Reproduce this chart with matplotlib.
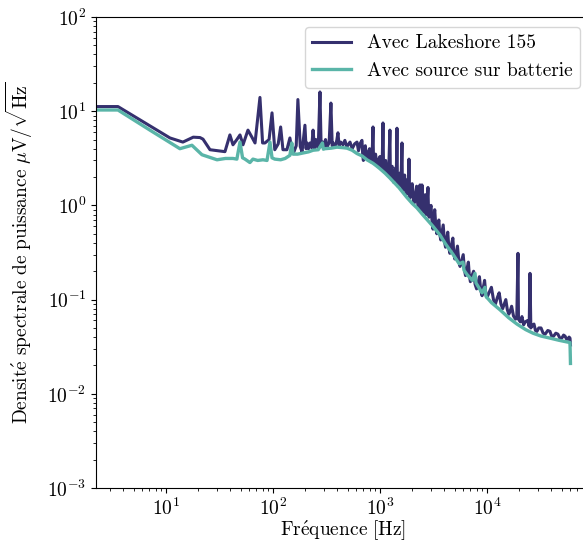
import numpy as np
import matplotlib
matplotlib.use("Agg")
import matplotlib.pyplot as plt

plt.rcParams['font.family'] = ['cmr10', 'DejaVu Serif']
plt.rcParams['mathtext.fontset'] = 'cm'
plt.rcParams['axes.formatter.use_mathtext'] = True
plt.rcParams['font.size'] = 14

# Avec Lakeshore 155
freq_lake = [2.22, 3.56, 7.08, 10.9, 14.4, 18.0, 20.8, 22.2, 25.8, 35.6,
             39.6, 42.3, 46, 49.2, 52.5, 58.4, 63.6, 68, 75.6, 80,
             84.2, 92, 98, 104, 112, 118, 124, 135, 144, 150,
             157, 165, 171, 180, 187, 199, 204, 208, 215, 222,
             230, 237, 245, 252, 258, 265, 275, 282, 293, 300,
             310, 320, 335, 348, 358, 364, 380, 395, 405, 415,
             430, 451, 470, 490, 525, 550, 580, 610, 630, 650,
             679, 690, 700, 715, 730, 745, 760, 780, 800, 815,
             830, 845, 861, 870, 880, 895, 910, 930, 950, 975,
             1000, 1015, 1030, 1050, 1067, 1080, 1090, 1110, 1130, 1155,
             1180, 1210, 1239, 1250, 1260, 1280, 1300, 1325, 1350, 1375,
             1400, 1420, 1442, 1455, 1470, 1500, 1530, 1570, 1606, 1620,
             1640, 1670, 1700, 1730, 1760, 1790, 1820, 1845, 1867, 1885,
             1900, 1950, 2000, 2040, 2080, 2140, 2200, 2240, 2280, 2320,
             2366, 2390, 2420, 2445, 2470, 2510, 2550, 2600, 2650, 2680,
             2700, 2750, 2810, 2845, 2880, 2940, 3000, 3060, 3129, 3190,
             3250, 3320, 3400, 3470, 3550, 3620, 3700, 3800, 3900, 4000,
             4100, 4200, 4300, 4400, 4500, 4650, 4800, 4900, 5000, 5150,
             5300, 5450, 5600, 5800, 6000, 6150, 6300, 6500, 6700, 6850,
             7000, 7250, 7500, 7750, 8000, 8250, 8500, 8750, 9000, 9250,
             9500, 9750, 10000, 10500, 11000, 11500, 12000, 12500, 13000, 13500,
             14000, 14500, 15000, 15500, 16000, 16500, 17000, 17700, 18500, 19000,
             19490, 19700, 20500, 21230, 22000, 22800, 24000, 24800, 25240, 25700,
             26500, 27500, 28400, 29300, 30500, 32000, 33500, 35000, 37000, 38800,
             40500, 42000, 44000, 46000, 48000, 50000, 52000, 53600, 55500, 57000,
             58500, 59700, 60300]
psd_lake = [11.2, 11.2, 7.0, 5.2, 4.7, 5.3, 5.25, 5.05, 3.9, 3.72,
            5.6, 4.4, 5.0, 5.6, 4.4, 6.3, 5.3, 4.6, 14.0, 4.6,
            4.6, 5.0, 9.6, 3.9, 4.5, 6.8, 3.9, 3.9, 5.2, 3.9,
            3.7, 4.3, 13.3, 4.2, 3.7, 7.1, 4.0, 4.6, 4.0, 4.6,
            4.1, 6.3, 4.0, 5.0, 4.9, 4.1, 16.0, 4.2, 4.7, 4.2,
            5.0, 4.2, 4.6, 12.2, 4.3, 4.6, 4.2, 4.9, 5.9, 4.3,
            4.7, 4.4, 4.9, 4.2, 4.7, 4.0, 4.5, 4.7, 3.8, 4.5,
            4.9, 3.4, 3.0, 3.9, 4.3, 3.2, 3.1, 3.7, 4.0, 3.0,
            2.9, 3.4, 6.8, 3.0, 2.8, 3.4, 3.5, 2.8, 2.6, 3.1,
            3.3, 2.6, 2.4, 2.9, 7.5, 2.6, 2.3, 2.8, 3.0, 2.3,
            2.1, 2.6, 6.3, 2.3, 2.0, 2.5, 2.6, 1.95, 1.75, 2.2,
            2.5, 1.9, 6.6, 1.8, 1.6, 2.0, 2.2, 1.6, 4.6, 1.6,
            1.45, 1.85, 2.1, 1.5, 1.3, 1.6, 1.9, 1.4, 3.1, 1.35,
            1.2, 1.45, 1.7, 1.2, 1.05, 1.3, 1.6, 1.1, 0.95, 1.2,
            1.65, 1.0, 0.9, 1.1, 1.65, 0.95, 0.85, 1.05, 1.3, 0.9,
            0.8, 1.0, 1.55, 0.85, 0.75, 0.9, 1.0, 0.7, 0.56, 0.75,
            0.9, 0.62, 0.5, 0.6, 0.7, 0.5, 0.43, 0.52, 0.62, 0.42,
            0.36, 0.44, 0.52, 0.36, 0.31, 0.38, 0.45, 0.31, 0.27, 0.31,
            0.37, 0.26, 0.225, 0.26, 0.3, 0.21, 0.18, 0.21, 0.25, 0.18,
            0.155, 0.18, 0.2, 0.145, 0.13, 0.15, 0.175, 0.125, 0.11, 0.135,
            0.16, 0.115, 0.105, 0.12, 0.135, 0.1, 0.09, 0.105, 0.118, 0.09,
            0.08, 0.09, 0.1, 0.078, 0.07, 0.076, 0.085, 0.067, 0.062, 0.066,
            0.31, 0.062, 0.058, 0.066, 0.054, 0.058, 0.06, 0.052, 0.19, 0.05,
            0.053, 0.055, 0.047, 0.046, 0.05, 0.05, 0.044, 0.043, 0.047, 0.046,
            0.04, 0.041, 0.044, 0.043, 0.039, 0.039, 0.042, 0.041, 0.038, 0.038,
            0.04, 0.039, 0.033]

# Avec source sur batterie
freq_batt = [2.22, 3.56, 7.08, 13.5, 17.5, 21.7, 30, 36, 42.3, 46,
             49.2, 52, 54.8, 60.9, 65, 72, 80.7, 88, 93.8, 98,
             104, 118, 130, 144, 150, 154, 170, 191, 215, 237,
             265, 290, 296, 306, 350, 396, 450, 492, 550, 610,
             680, 756, 861, 938, 1000, 1114, 1239, 1323, 1500, 1778,
             2000, 2218, 2525, 3129, 3640, 4100, 4508, 4808, 5500, 5970,
             6100, 6497, 7300, 7730, 7900, 9000, 9570, 9800, 11000, 13223,
             16000, 19048, 23000, 26900, 32000, 38800, 47000, 55950, 59700, 60300]
psd_batt = [10.3, 10.3, 6.3, 4.0, 4.35, 3.45, 3.05, 3.15, 3.15, 3.1,
            4.7, 3.2, 3.1, 2.85, 3.1, 3.0, 3.05, 3.0, 4.7, 3.2,
            3.1, 3.05, 3.15, 3.4, 4.6, 3.5, 3.5, 3.6, 3.7, 3.85,
            3.9, 4.6, 3.95, 4.0, 4.05, 4.15, 4.1, 4.05, 3.85, 3.55,
            3.35, 3.05, 2.8, 2.6, 2.45, 2.2, 1.95, 1.8, 1.55, 1.22,
            1.05, 0.94, 0.79, 0.6, 0.485, 0.39, 0.335, 0.303, 0.24, 0.25,
            0.205, 0.185, 0.16, 0.19, 0.15, 0.118, 0.135, 0.108, 0.093, 0.078,
            0.064, 0.055, 0.048, 0.044, 0.041, 0.039, 0.037, 0.0355, 0.035, 0.021]

fig = plt.figure(figsize=(5.83, 5.44), dpi=100)
ax = fig.add_axes([96/583, 56/544, 494/583, 471/544])

ax.loglog(freq_lake, psd_lake, color='#35306e', lw=2.2, label='Avec Lakeshore 155')
ax.loglog(freq_batt, psd_batt, color='#5ab5a8', lw=2.4, label='Avec source sur batterie')

ax.set_xlim(2.22, 9.18e4)
ax.set_ylim(1e-3, 1e2)
ax.set_xlabel(r"$\mathrm{Fr\'equence\ [Hz]}$", labelpad=0)
ax.set_ylabel(r"$\mathrm{Densit\'e\ spectrale\ de\ puissance}\ \mu\mathrm{V}/\sqrt{\mathrm{Hz}}$",
              labelpad=9)
ax.legend(loc='upper right')

plt.savefig("out.png", dpi=100)
